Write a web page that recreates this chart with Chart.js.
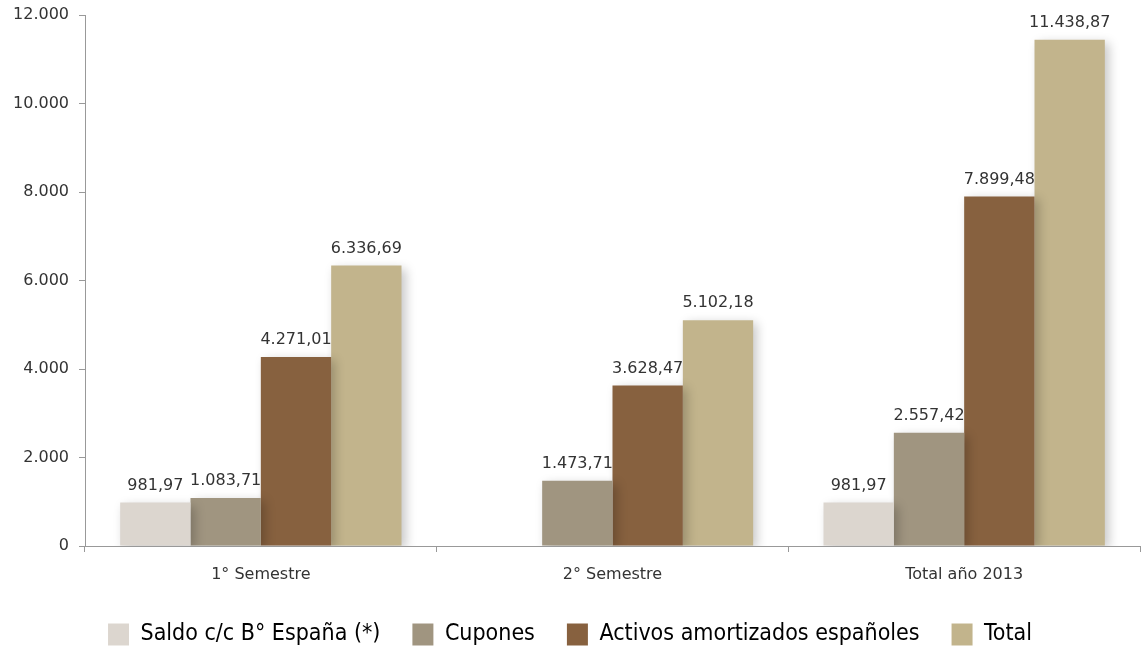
<!DOCTYPE html>
<html>
<head>
<meta charset="utf-8">
<script src="https://cdn.jsdelivr.net/npm/chart.js@4/dist/chart.umd.min.js"></script>
<style>
  html, body { margin: 0; padding: 0; background: #fff; }
  #wrap { width: 1144px; height: 650px; position: relative; }
</style>
</head>
<body>
<div id="wrap"><canvas id="chart"></canvas></div>
<script>
(() => {
  const categories = ["1° Semestre", "2° Semestre", "Total año 2013"];
  const saldo = [981.97, null, 981.97];
  const cupones = [1083.71, 1473.71, 2557.42];
  const activos = [4271.01, 3628.47, 7899.48];
  const total = [6336.69, 5102.18, 11438.87];
  const seriesNames = [
    "Saldo c/c B° España (*)",
    "Cupones",
    "Activos amortizados españoles",
    "Total",
  ];
  const yTicks = [0, 2000, 4000, 6000, 8000, 10000, 12000];

  const FONT = "'DejaVu Sans', 'Noto Sans', sans-serif";

  // base colour, light edge, dark edge
  const palette = [
    ["#dcd6cf", "#e6e2dc", "#bdb6ad"],
    ["#a09580", "#b3a994", "#817864"],
    ["#87613f", "#9a7352", "#6b4b2f"],
    ["#c2b48c", "#cabe98", "#a09372"],
  ];

  function fmt(v, dec) {
    const parts = v.toFixed(dec).split(".");
    const intPart = parts[0].replace(/\B(?=(\d{3})+(?!\d))/g, ".");
    return dec ? intPart + "," + parts[1] : intPart;
  }

  function barFill(i) {
    return (ctx) => {
      const el = ctx.element;
      const c = ctx.chart.ctx;
      if (!el || el.width == null) return palette[i][0];
      const x0 = el.x - el.width / 2;
      const g = c.createLinearGradient(x0, 0, x0 + el.width, 0);
      g.addColorStop(0, palette[i][1]);
      g.addColorStop(0.45, palette[i][0]);
      g.addColorStop(0.88, palette[i][0]);
      g.addColorStop(1, palette[i][2]);
      return g;
    };
  }

  const rows = [saldo, cupones, activos, total];
  const datasets = rows.map((data, i) => ({
    label: seriesNames[i],
    data,
    backgroundColor: barFill(i),
    borderWidth: 0,
    categoryPercentage: 0.8,
    barPercentage: 1.0,
  }));

  const shadowPlugin = {
    id: "shadow",
    beforeDatasetDraw(chart) {
      const c = chart.ctx;
      c.save();
      c.shadowColor = "rgba(0,0,0,0.22)";
      c.shadowBlur = 10;
      c.shadowOffsetX = 4;
      c.shadowOffsetY = 3;
    },
    afterDatasetDraw(chart) {
      chart.ctx.restore();
    },
  };

  const valueLabels = {
    id: "valueLabels",
    afterDatasetsDraw(chart) {
      const c = chart.ctx;
      c.save();
      c.font = "16px " + FONT;
      c.fillStyle = "#333";
      c.textAlign = "center";
      c.textBaseline = "bottom";
      chart.data.datasets.forEach((ds, di) => {
        const meta = chart.getDatasetMeta(di);
        meta.data.forEach((bar, j) => {
          const v = ds.data[j];
          if (v == null) return;
          c.fillText(fmt(v, 2), bar.x, bar.y - 9);
        });
      });
      c.restore();
    },
  };

  new Chart(document.getElementById("chart"), {
    type: "bar",
    data: { labels: categories, datasets },
    plugins: [shadowPlugin, valueLabels],
    options: {
      responsive: true,
      maintainAspectRatio: false,
      animation: false,
      layout: { padding: { top: 15, right: 4, left: 0, bottom: -6 } },
      plugins: {
        tooltip: { enabled: false },
        legend: {
          position: "bottom",
          labels: {
            color: "#222",
            font: { family: "'DejaVu Sans Condensed', 'Open Sans', sans-serif", size: 23 },
            boxWidth: 21,
            boxHeight: 22,
            padding: 32,
            generateLabels(ch) {
              return ch.data.datasets.map((ds, i) => ({
                text: ds.label,
                fillStyle: palette[i][0],
                strokeStyle: palette[i][0],
                lineWidth: 0,
                hidden: false,
                datasetIndex: i,
              }));
            },
          },
        },
      },
      scales: {
        x: {
          afterFit(scale) {
            scale.height = 45;
          },
          grid: {
            display: true,
            drawOnChartArea: false,
            drawTicks: true,
            tickLength: 6,
            color: "#999",
            offset: true,
          },
          border: { color: "#999", width: 1 },
          ticks: {
            color: "#333",
            font: { family: FONT, size: 16 },
            padding: 13,
          },
        },
        y: {
          min: 0,
          max: 12000,
          afterFit(scale) {
            scale.width = 85;
            scale.paddingTop = 0;
          },
          afterBuildTicks(axis) {
            axis.ticks = yTicks.map((v) => ({ value: v }));
          },
          grid: {
            display: true,
            drawOnChartArea: false,
            drawTicks: true,
            tickLength: 6,
            color: "#999",
          },
          border: { color: "#999", width: 1 },
          ticks: {
            color: "#333",
            font: { family: FONT, size: 16 },
            padding: 10,
            callback: (v) => fmt(v, 0),
          },
        },
      },
    },
  });
})();
</script>
</body>
</html>
